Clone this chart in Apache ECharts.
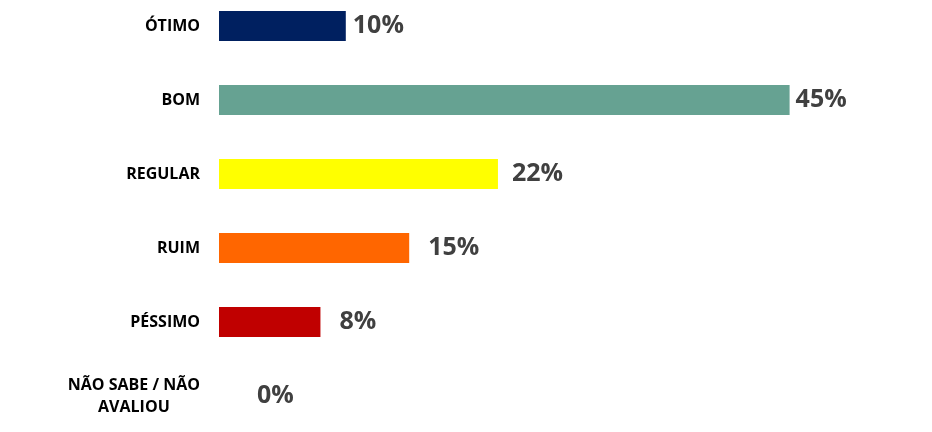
<!DOCTYPE html>
<html>
<head>
<meta charset="utf-8">
<script src="https://cdn.jsdelivr.net/npm/echarts@6/dist/echarts.min.js"></script>
<style>
html,body{margin:0;padding:0;background:#fff;overflow:hidden;width:932px;height:432px;}
#chart{width:932px;height:444px;position:relative;top:-11px;}
</style>
</head>
<body>
<div id="chart"></div>
<script>
const categories = ['ÓTIMO', 'BOM', 'REGULAR', 'RUIM', 'PÉSSIMO', 'NÃO SABE / NÃO\nAVALIOU'];
const values = [10, 45, 22, 15, 8, 0];
const colors = ['#002060', '#66A292', '#FFFF00', '#FF6600', '#C00000', '#999999'];
const labelGaps = [7, 6, 14, 19, 19, 38];

const chart = echarts.init(document.getElementById('chart'));
chart.setOption({
  animation: false,
  grid: { left: 219, top: 0, width: 634, height: 444, containLabel: false },
  xAxis: { type: 'value', min: 0, max: 50, show: false },
  yAxis: {
    type: 'category', inverse: true, data: categories,
    axisLine: { show: false }, axisTick: { show: false }, splitLine: { show: false },
    axisLabel: {
      margin: 19, color: '#000', fontFamily: 'Open Sans', fontWeight: 'bold', fontSize: 16,
      lineHeight: 22,
      formatter: function (v) { return v.split('\n').map(s => '{c|' + s + '}').join('\n'); },
      rich: { c: { align: 'center', color: '#000', fontFamily: 'Open Sans', fontWeight: 'bold', fontSize: 16, lineHeight: 22 } }
    }
  },
  series: [{
    type: 'bar', barWidth: 30,
    data: values.map((v, i) => ({
      value: v,
      itemStyle: { color: colors[i] },
      label: { distance: labelGaps[i] }
    })),
    label: {
      show: true, position: 'right', formatter: '{c}%',
      color: '#404040', fontFamily: 'Open Sans', fontWeight: 'bold', fontSize: 25
    }
  }]
});
</script>
</body>
</html>
